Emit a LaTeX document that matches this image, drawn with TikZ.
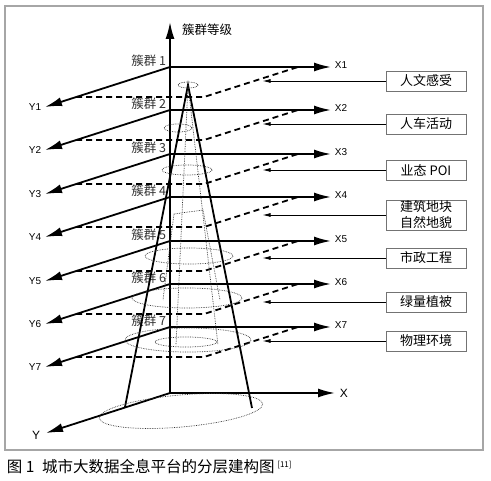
\documentclass[tikz,border=0pt]{standalone}
\usepackage{fontspec}
\setmainfont{Liberation Sans}
\newfontfamily\cjk{Noto Sans CJK SC}
\usetikzlibrary{arrows.meta}

\begin{document}
\begin{tikzpicture}[x = 1pt, y = -1pt, line width = 1.8pt,
                    axis/.style = {-{Latex[length = 17pt, width = 9pt]}},
                    plane/.style = {dash pattern = on 6pt off 4pt},
                    dots/.style = {densely dotted, line width = 0.7pt, black!80},
                    tag/.style = {draw = black!55, line width = 0.9pt, minimum width = 80pt,
                                  minimum height = 20pt, inner sep = 1pt, align = center,
                                  font = \cjk\fontsize{13}{16}\selectfont},
                    pointer/.style = {line width = 0.8pt, -{Latex[length = 8pt, width = 4pt]}},
                    lvl/.style = {anchor = east, inner sep = 1pt, text = black!80,
                                  font = \cjk\fontsize{12.5}{14}\selectfont},
                    axlab/.style = {inner sep = 1pt, font = \fontsize{10}{12}\selectfont}]
      \useasboundingbox (0, 0) rectangle (491, 481);
      \draw [black!35, line width = 1.5pt] (5, 6) rectangle (483, 450);

      % axes
      \coordinate (o) at (170, 393);
      \coordinate (ztop) at (170, 22);
      \coordinate (xtip) at (335, 393);
      \coordinate (ytip) at (46, 433);
      \node [anchor = west, font = \cjk\fontsize{12.5}{14}\selectfont] (zlab) at (178, 30) {簇群等级};
      \node [axlab, anchor = west, font = \fontsize{12}{14}\selectfont] (xlab) at (338, 393) {X};
      \node [axlab, anchor = east, font = \fontsize{12}{14}\selectfont] (ylab) at (42, 435) {Y};
      \draw [axis] (o) -- (ztop);
      \draw [axis] (o) -- (xtip);
      \draw [axis] (o) -- (ytip);

      % cluster planes
      \foreach \i/\y in {1/67, 2/110, 3/154, 4/197, 5/241, 6/284, 7/327}{
        \coordinate (a\i) at (170, \y);
        \coordinate (b\i) at (298, \y);
        \coordinate (c\i) at (204, \y + 30);
        \coordinate (d\i) at (76, \y + 30);
        \coordinate (xt\i) at (331, \y);
        \coordinate (yt\i) at (45, \y + 40);
        \node [axlab, anchor = west] (x\i) at (333, \y - 2) {X\i};
        \node [axlab, anchor = east] (y\i) at (43, \y + 40) {Y\i};
        \node [lvl] (l\i) at (168, \y - 6) {簇群 \i};
        \draw [axis] (a\i) -- (xt\i);
        \draw [axis] (a\i) -- (yt\i);
        \draw [plane] (d\i) -- (c\i) -- (b\i);
      }

      % cone
      \coordinate (apex) at (188, 85);
      \coordinate (cl) at (125, 407);
      \coordinate (cr) at (252, 408);
      \draw (cl) -- (apex) -- (cr);
      \draw [dots] (apex) ellipse (10 and 3);
      \draw [dots, rotate around = {5:(181, 411)}] (181, 411) ellipse (82 and 16);
      \draw [dots] (178, 128) ellipse (14 and 4);
      \draw [dots] (187, 170) ellipse (25 and 5);
      \draw [dots] (189, 256) ellipse (44 and 8);
      \draw [dots] (187, 298) ellipse (55 and 10);
      \draw [dots] (188, 340) ellipse (63 and 12);
      \draw [dots] (186, 342) ellipse (31 and 5);
      \draw [dots] (apex) -- (176, 345);
      \draw [dots] (apex) -- (218, 345);
      \draw [dots] (174, 214) -- (203, 210) -- (220, 300);
      \draw [dots] (174, 214) -- (163, 300);

      % layer tags
      \foreach \i/\y/\txt in {1/81/人文感受, 2/124/人车活动, 3/170/业态 POI,
                              4/215/{建筑地块\\自然地貌}, 5/258/市政工程,
                              6/302/绿量植被, 7/341/物理环境}{
        \node [tag] (t\i) at (426, \y) {\txt};
        \draw [pointer] (t\i.west) -- ++(-123, 0);
      }

      % caption
      \node [anchor = west, inner sep = 0pt, font = \cjk\fontsize{15.5}{18}\selectfont] (cap) at (6, 467)
            {图 1\enspace 城市大数据全息平台的分层建构图\,\textsuperscript{\fontsize{8}{9}\selectfont[11]}};
\end{tikzpicture}
\end{document}
